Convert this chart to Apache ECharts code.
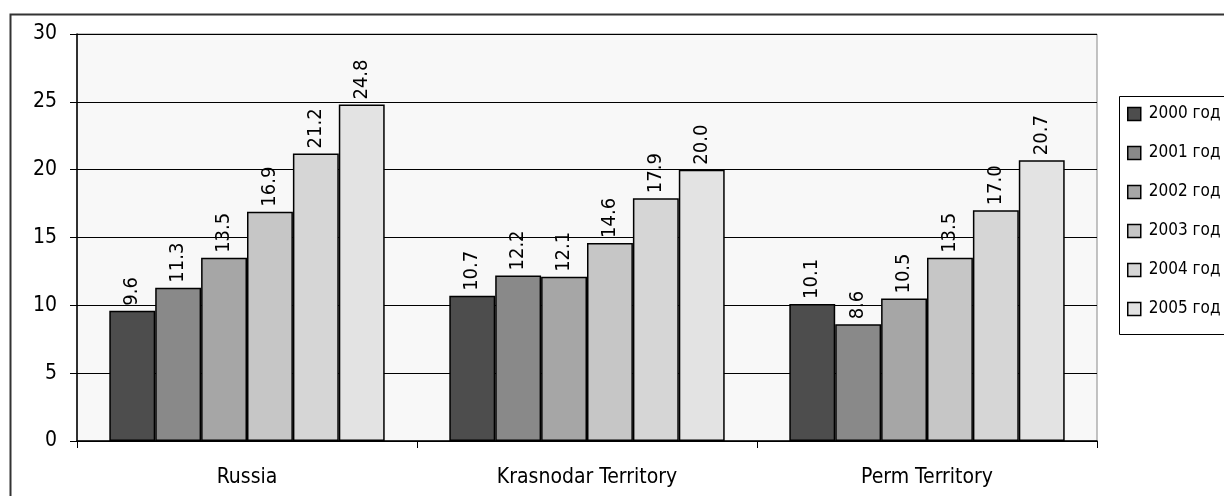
<!DOCTYPE html>
<html>
<head>
<meta charset="utf-8">
<script src="https://cdn.jsdelivr.net/npm/echarts@6/dist/echarts.min.js"></script>
<style>
  html, body { margin: 0; padding: 0; background: #fff; }
  #chart { width: 1224px; height: 496px; }
</style>
</head>
<body>
<div id="chart"></div>
<script>
const categories = ["Russia", "Krasnodar Territory", "Perm Territory"];
const seriesNames = ["2000 год", "2001 год", "2002 год", "2003 год", "2004 год", "2005 год"];
const values2000 = [9.6, 10.7, 10.1];
const values2001 = [11.3, 12.2, 8.6];
const values2002 = [13.5, 12.1, 10.5];
const values2003 = [16.9, 14.6, 13.5];
const values2004 = [21.2, 17.9, 17.0];
const values2005 = [24.8, 20.0, 20.7];
const seriesColors = ["#4d4d4d", "#898989", "#a6a6a6", "#c6c6c6", "#d6d6d6", "#e3e3e3"];

const FONT = "'DejaVu Sans Condensed', 'Liberation Sans', sans-serif";
const allValues = [values2000, values2001, values2002, values2003, values2004, values2005];

const chart = echarts.init(document.getElementById("chart"));

const series = seriesNames.map((name, i) => ({
  name,
  type: "bar",
  data: allValues[i],
  barGap: "0%",
  barCategoryGap: "19%",
  itemStyle: { color: seriesColors[i], borderColor: "#000", borderWidth: 1.5 },
  label: {
    show: true,
    position: "top",
    rotate: 90,
    align: "left",
    verticalAlign: "middle",
    distance: 5,
    fontFamily: FONT,
    fontSize: 20,
    color: "#000",
    formatter: p => p.value.toFixed(1)
  }
}));

chart.setOption({
  backgroundColor: "#fff",
  animation: false,
  grid: {
    left: 77, top: 34, right: 127, bottom: 55,
    show: true, backgroundColor: "#f8f8f8", borderColor: "#888", borderWidth: 1
  },
  legend: {
    orient: "vertical",
    left: 1127, top: 104,
    padding: 0,
    itemGap: 19,
    itemWidth: 13, itemHeight: 13,
    icon: "rect",
    data: seriesNames,
    textStyle: { fontFamily: FONT, fontSize: 17, lineHeight: 20, color: "#000", padding: [0, 0, 0, 3] },
    itemStyle: { borderColor: "#000", borderWidth: 1.5 }
  },
  xAxis: {
    type: "category",
    data: categories,
    axisLine: { lineStyle: { color: "#000", width: 1.5 } },
    axisTick: { show: true, length: 7, lineStyle: { color: "#000" } },
    axisLabel: { fontFamily: FONT, fontSize: 21, color: "#000", margin: 26 }
  },
  yAxis: {
    type: "value",
    min: 0, max: 30, interval: 5,
    axisLine: { show: true, lineStyle: { color: "#000", width: 1.5 } },
    axisTick: { show: true, length: 7, lineStyle: { color: "#000" } },
    axisLabel: { fontFamily: FONT, fontSize: 21, color: "#000", margin: 20 },
    splitLine: { lineStyle: { color: "#000", width: 1 } }
  },
  graphic: [
    { type: "rect", left: 8, top: 12, shape: { width: 1400, height: 700 },
      style: { fill: null, stroke: "#333", lineWidth: 2 }, silent: true },
    { type: "rect", left: 1117, top: 94, shape: { width: 200, height: 238 },
      style: { fill: null, stroke: "#000", lineWidth: 1 }, silent: true }
  ],
  series
});
</script>
</body>
</html>
